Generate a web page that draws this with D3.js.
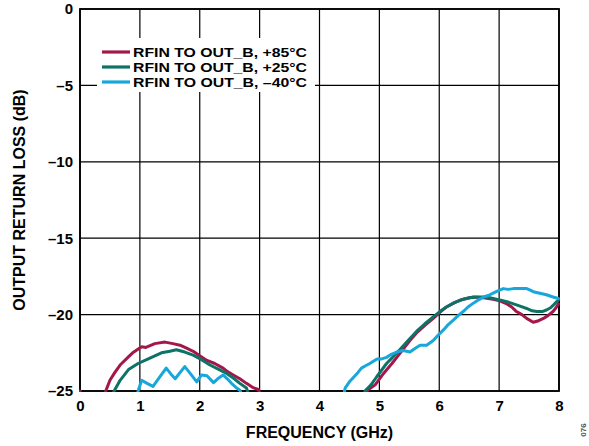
<!DOCTYPE html>
<html><head><meta charset="utf-8">
<script src="https://cdn.jsdelivr.net/npm/d3@7"></script>
<style>
html,body{margin:0;padding:0;background:#fff;}
text{font-family:"Liberation Sans",Arial,sans-serif;font-weight:bold;}
</style></head>
<body>
<svg id="c" width="589" height="446"></svg>
<script>
const xTicks = [0,1,2,3,4,5,6,7,8];
const yTicks = [0,-5,-10,-15,-20,-25];
const yTickLabels = ["0","–5","–10","–15","–20","–25"];
const seriesNames = ["RFIN TO OUT_B, +85°C","RFIN TO OUT_B, +25°C","RFIN TO OUT_B, –40°C"];
const seriesColors = ["#a3174b","#0d7367","#17a7db"];

// Each series: low band and high band segments [freq GHz, dB]
const red85Low = [[0,-25],[0.03,-26.5],[0.38,-26.5],[0.43,-25],[0.5,-24.3],[0.58,-23.8],[0.67,-23.3],[0.8,-22.8],[0.88,-22.5],[1.03,-22.1],[1.1,-22.15],[1.25,-21.9],[1.42,-21.8],[1.55,-21.9],[1.67,-22.0],[1.78,-22.2],[1.89,-22.4],[2.0,-22.7],[2.12,-23.0],[2.25,-23.2],[2.39,-23.5],[2.47,-23.75],[2.56,-23.95],[2.67,-24.2],[2.78,-24.5],[2.9,-24.8],[2.98,-24.9],[3.05,-25.6]];
const green25Low = [[0.5,-26],[0.57,-25],[0.67,-24.3],[0.81,-23.6],[0.97,-23.2],[1.14,-22.9],[1.25,-22.7],[1.36,-22.5],[1.5,-22.4],[1.61,-22.3],[1.75,-22.45],[1.89,-22.65],[2.03,-22.95],[2.17,-23.3],[2.3,-23.55],[2.45,-23.85],[2.56,-24.15],[2.67,-24.5],[2.78,-24.8],[2.82,-25.3]];
const blue40Low = [[0.95,-25.5],[0.97,-25],[1.03,-24.3],[1.12,-24.5],[1.22,-24.7],[1.33,-24.1],[1.44,-23.5],[1.52,-23.9],[1.59,-24.2],[1.67,-23.8],[1.75,-23.4],[1.85,-23.9],[1.95,-24.4],[2.03,-23.95],[2.12,-24.0],[2.23,-24.45],[2.3,-24.2],[2.39,-23.95],[2.46,-24.2],[2.53,-24.5],[2.6,-24.75],[2.67,-24.95],[2.72,-25.4]];
const red85High = [[4.77,-25.5],[4.8,-24.95],[4.93,-24.6],[5.07,-23.85],[5.21,-23.2],[5.34,-22.55],[5.51,-21.7],[5.62,-21.2],[5.76,-20.7],[5.9,-20.25],[6.01,-19.85],[6.12,-19.5],[6.24,-19.25],[6.35,-19.05],[6.46,-18.95],[6.57,-18.85],[6.74,-18.9],[6.9,-19.0],[7.01,-19.1],[7.13,-19.3],[7.21,-19.5],[7.29,-19.8],[7.38,-20.0],[7.46,-20.25],[7.57,-20.5],[7.66,-20.4],[7.74,-20.25],[7.82,-20.05],[7.9,-19.8],[7.95,-19.55],[7.99,-19.3]];
const green25High = [[4.73,-25.5],[4.76,-25],[4.86,-24.6],[4.95,-24.1],[5.12,-23.2],[5.22,-22.8],[5.34,-22.3],[5.48,-21.7],[5.62,-21.1],[5.76,-20.6],[5.9,-20.15],[6.01,-19.8],[6.12,-19.5],[6.26,-19.2],[6.4,-19.0],[6.5,-18.9],[6.62,-18.85],[6.79,-18.85],[6.9,-18.95],[7.01,-19.05],[7.13,-19.15],[7.24,-19.3],[7.35,-19.45],[7.46,-19.6],[7.55,-19.75],[7.63,-19.8],[7.72,-19.8],[7.79,-19.7],[7.86,-19.55],[7.9,-19.4],[7.95,-19.2],[7.99,-19.05]];
const blue40High = [[4.4,-25.3],[4.43,-24.8],[4.5,-24.4],[4.57,-24.1],[4.64,-23.8],[4.7,-23.5],[4.77,-23.35],[4.84,-23.2],[4.96,-22.9],[5.04,-22.9],[5.12,-22.8],[5.2,-22.6],[5.29,-22.45],[5.4,-22.35],[5.51,-22.45],[5.6,-22.2],[5.68,-22.0],[5.79,-22.0],[5.9,-21.7],[5.98,-21.35],[6.07,-21.0],[6.15,-20.65],[6.24,-20.35],[6.32,-20.05],[6.4,-19.8],[6.48,-19.5],[6.57,-19.25],[6.65,-19.05],[6.74,-18.85],[6.82,-18.75],[6.9,-18.6],[6.98,-18.45],[7.07,-18.3],[7.15,-18.35],[7.24,-18.3],[7.35,-18.3],[7.46,-18.3],[7.52,-18.4],[7.57,-18.5],[7.68,-18.6],[7.79,-18.7],[7.9,-18.85],[7.99,-18.95]];

const seriesData = [[red85Low, red85High],[green25Low, green25High],[blue40Low, blue40High]];

const svg = d3.select("#c");
const L=80, R=559, T=9, B=391;
const x = d3.scaleLinear().domain([0,8]).range([L,R]);
const y = d3.scaleLinear().domain([-25,0]).range([B,T]);

svg.append("defs").append("clipPath").attr("id","clip")
  .append("rect").attr("x",L-1).attr("y",T-2).attr("width",R-L+2).attr("height",B-T+3);

// grid
const g = svg.append("g");
g.selectAll("line.vx").data(xTicks).join("line")
  .attr("x1",d=>x(d)).attr("x2",d=>x(d)).attr("y1",T).attr("y2",B)
  .attr("stroke","#000").attr("stroke-width",1.2);
g.selectAll("line.hy").data(yTicks).join("line")
  .attr("x1",L).attr("x2",R).attr("y1",d=>y(d)).attr("y2",d=>y(d))
  .attr("stroke","#000").attr("stroke-width",1.2);

// legend background
svg.append("rect").attr("x",97).attr("y",38).attr("width",218).attr("height",54).attr("fill","#fff");

// frame
svg.append("rect").attr("x",L).attr("y",T).attr("width",R-L).attr("height",B-T)
  .attr("fill","none").attr("stroke","#000").attr("stroke-width",1.8);

// curves
const line = d3.line().x(d=>x(d[0])).y(d=>y(d[1]));
const cg = svg.append("g").attr("clip-path","url(#clip)");
seriesData.forEach((segs,i)=>{
  segs.forEach(s=>{
    cg.append("path").attr("d",line(s)).attr("fill","none")
      .attr("stroke",seriesColors[i]).attr("stroke-width",3)
      .attr("stroke-linejoin","round").attr("stroke-linecap","round");
  });
});

// legend
const lg = svg.append("g");
seriesNames.forEach((n,i)=>{
  const yy = 52 + i*15;
  lg.append("line").attr("x1",102).attr("x2",130).attr("y1",yy).attr("y2",yy)
    .attr("stroke",seriesColors[i]).attr("stroke-width",3.2);
  lg.append("text").attr("x",133).attr("y",yy+5).attr("font-size",13.5)
    .attr("textLength",174).attr("lengthAdjust","spacingAndGlyphs").text(n);
});

// axes
const xAxis = d3.axisBottom(x).tickValues(xTicks).tickSize(0).tickPadding(9).tickFormat(d3.format("d"));
const xa = svg.append("g").attr("transform",`translate(0,${B})`).call(xAxis);
xa.select(".domain").remove();
xa.selectAll("text").attr("font-size",15).attr("fill","#000").attr("font-family","Liberation Sans, Arial, sans-serif").attr("font-weight","bold");

const yAxis = d3.axisLeft(y).tickValues(yTicks).tickSize(0).tickPadding(7).tickFormat((d,i)=>yTickLabels[i]);
const ya = svg.append("g").attr("transform",`translate(${L},0)`).call(yAxis);
ya.select(".domain").remove();
ya.selectAll("text").attr("font-size",15).attr("fill","#000").attr("font-family","Liberation Sans, Arial, sans-serif").attr("font-weight","bold");

svg.append("text").attr("x",(L+R)/2).attr("y",438).attr("text-anchor","middle").attr("font-size",16).text("FREQUENCY (GHz)");
svg.append("text").attr("transform",`translate(25,${(T+B)/2}) rotate(-90)`).attr("text-anchor","middle").attr("font-size",16).text("OUTPUT RETURN LOSS (dB)");
svg.append("text").attr("transform","translate(586,430) rotate(-90)").attr("text-anchor","middle").attr("font-size",8)
  .attr("font-weight","normal").attr("fill","#555").text("076");
</script>
</body></html>
